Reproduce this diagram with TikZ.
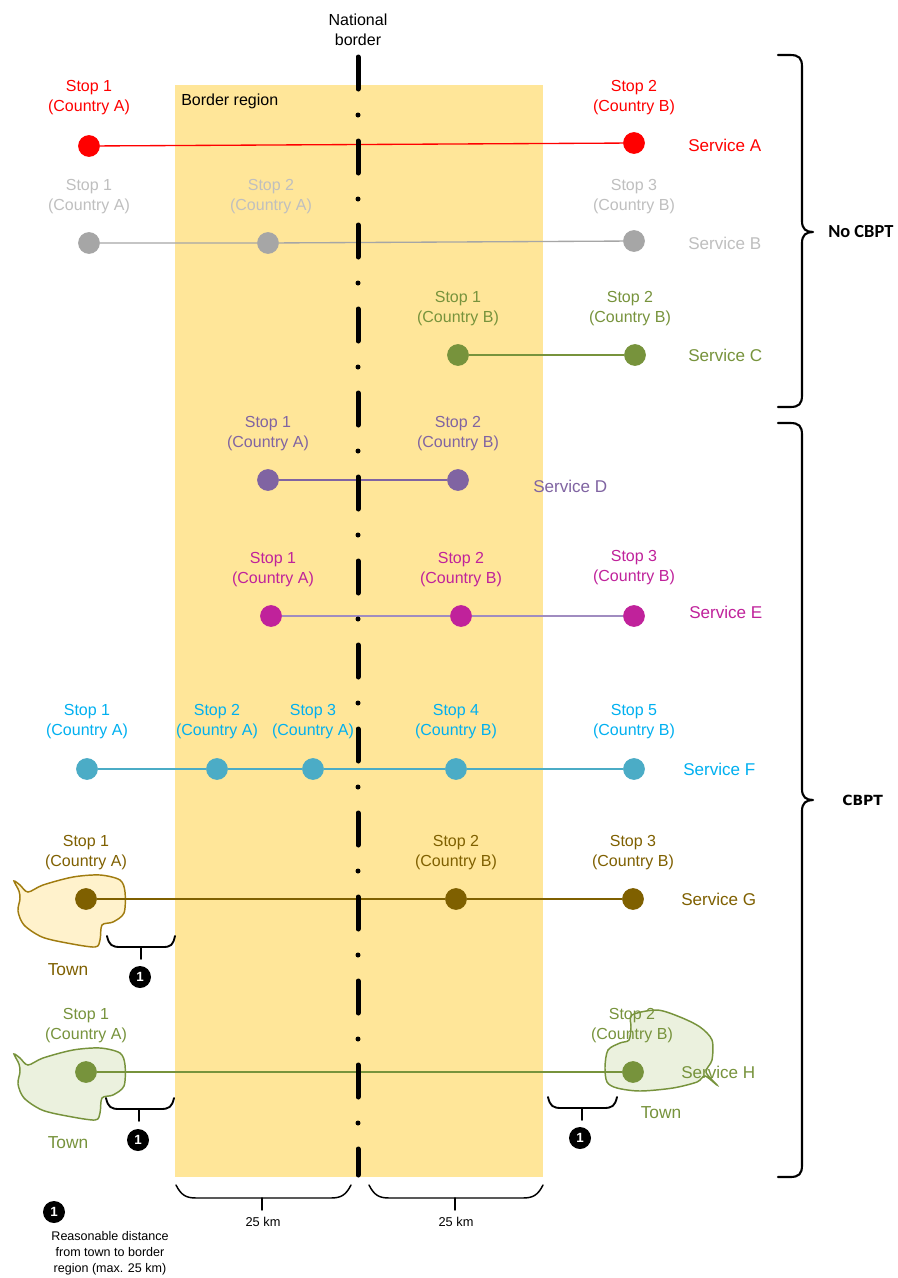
\documentclass[tikz,border=0pt]{standalone}
\usepackage{fontspec}
\setmainfont{Liberation Sans}
\newfontfamily\calfont{Carlito}
\newfontfamily\dejafont{DejaVu Sans}
\definecolor{regionfill}{HTML}{FFE699}
\definecolor{cRed}{HTML}{FF0000}
\definecolor{cGrayDot}{HTML}{A6A6A6}
\definecolor{cGrayTxt}{HTML}{BFBFBF}
\definecolor{cOlive}{HTML}{77933C}
\definecolor{cPurple}{HTML}{8064A2}
\definecolor{cMagenta}{HTML}{C0229B}
\definecolor{cLavender}{HTML}{A08CC0}
\definecolor{cCyanDot}{HTML}{4BACC6}
\definecolor{cCyanTxt}{HTML}{00B0F0}
\definecolor{cBrown}{HTML}{7F6000}
\definecolor{townYfill}{HTML}{FFF2CC}
\definecolor{townYline}{HTML}{A07C10}
\definecolor{townGfill}{HTML}{EBF1DE}
\begin{document}
\begin{tikzpicture}[x=0.75pt,y=-0.75pt,
  stoplbl/.style={align=center, font=\fontsize{12}{15}\selectfont, inner sep=0pt},
  svc/.style={anchor=west, font=\fontsize{12.8}{15}\selectfont, inner sep=0pt},
  stopdot/.style={circle, fill=#1, minimum size=16.3pt, inner sep=0pt},
  svcline/.style={line width=1pt},
  numdot/.style={circle, fill=black, minimum size=16.5pt, inner sep=0pt, text=white, font=\bfseries\fontsize{10}{10}\selectfont},
  bigbrace/.style={line width=1.6pt, line cap=round, line join=round},
  smallbrace/.style={line width=1.4pt, line cap=round, line join=round},
  townlbl/.style={font=\fontsize{13}{15}\selectfont, inner sep=0pt},
  kmlbl/.style={font=\fontsize{9.6}{12}\selectfont, inner sep=0pt}
]
\useasboundingbox (0,0) rectangle (897,1278);
\fill[white] (0,0) rectangle (897,1278);
% border region
\fill[regionfill] (175,85) rectangle (543,1177);
\node[anchor=west, font=\fontsize{12}{15}\selectfont, inner sep=0pt] (brlbl) at (181,101) {Border region};
\node[align=center, font=\fontsize{12}{15}\selectfont, inner sep=0pt] (nblbl) at (358,30) {National\\border};

% towns
\begin{scope}[shift={(86,899)}]
\filldraw[fill=townYfill, draw=townYline, line width=1.1pt] plot[smooth cycle, tension=0.5] coordinates {(-43,-14) (-13,-22) (14,-24) (34,-19) (39,-7) (38,14) (27,23) (16,26) (14,41) (9,48) (-19,44) (-44,38) (-62,26) (-68,12) (-66,0) (-67,-8) (-72,-18) (-66,-14) (-58,-7)};
\end{scope}
\begin{scope}[shift={(86,1072)}]
\filldraw[fill=townGfill, draw=cOlive, line width=1.1pt] plot[smooth cycle, tension=0.5] coordinates {(-43,-14) (-13,-22) (14,-24) (34,-19) (39,-7) (38,14) (27,23) (16,26) (14,41) (9,48) (-19,44) (-44,38) (-62,26) (-68,12) (-66,0) (-67,-8) (-72,-18) (-66,-14) (-58,-7)};
\end{scope}
\begin{scope}[shift={(633,1072)}]
\filldraw[fill=townGfill, draw=cOlive, line width=1.1pt] plot[smooth cycle, tension=0.5] coordinates {(-1,-57) (24,-62) (47,-55) (67,-45) (79,-32) (79,-12) (73,0) (84,13) (72,4) (64,10) (40,16) (7,19) (-16,16) (-26,10) (-28,-5) (-25,-22) (-13,-29) (-4,-32) (-2,-45)};
\end{scope}

% Service A
\node[stopdot=cRed] (a1) at (89,146) {};
\node[stopdot=cRed] (a2) at (634,143) {};
\draw[svcline, cRed] (a1) -- (a2);
\node[stoplbl, text=cRed] (a1l) at (89,98) {Stop 1\\(Country A)};
\node[stoplbl, text=cRed] (a2l) at (634,98) {Stop 2\\(Country B)};
\node[svc, text=cRed] (sa) at (688,145) {Service A};

% Service B
\node[stopdot=cGrayDot] (b1) at (89,243) {};
\node[stopdot=cGrayDot] (b2) at (268,243) {};
\node[stopdot=cGrayDot] (b3) at (634,241) {};
\draw[svcline, cGrayDot] (b1) -- (b2) -- (b3);
\node[stoplbl, text=cGrayTxt] (b1l) at (89,197) {Stop 1\\(Country A)};
\node[stoplbl, text=cGrayTxt] (b2l) at (271,197) {Stop 2\\(Country A)};
\node[stoplbl, text=cGrayTxt] (b3l) at (634,197) {Stop 3\\(Country B)};
\node[svc, text=cGrayTxt] (sb) at (688,243) {Service B};

% Service C
\node[stopdot=cOlive] (c1) at (458,355) {};
\node[stopdot=cOlive] (c2) at (635,355) {};
\draw[svcline, cOlive] (c1) -- (c2);
\node[stoplbl, text=cOlive] (c1l) at (458,309) {Stop 1\\(Country B)};
\node[stoplbl, text=cOlive] (c2l) at (630,309) {Stop 2\\(Country B)};
\node[svc, text=cOlive] (sc) at (688,355) {Service C};

% Service D
\node[stopdot=cPurple] (d1) at (268,480) {};
\node[stopdot=cPurple] (d2) at (458,480) {};
\draw[svcline, cPurple] (d1) -- (d2);
\node[stoplbl, text=cPurple] (d1l) at (268,434) {Stop 1\\(Country A)};
\node[stoplbl, text=cPurple] (d2l) at (458,434) {Stop 2\\(Country B)};
\node[svc, text=cPurple] (sd) at (533,486) {Service D};

% Service E
\node[stopdot=cMagenta] (e1) at (271,616) {};
\node[stopdot=cMagenta] (e2) at (461,616) {};
\node[stopdot=cMagenta] (e3) at (634,616) {};
\draw[svcline, cLavender] (e1) -- (e2) -- (e3);
\node[stoplbl, text=cMagenta] (e1l) at (273,570) {Stop 1\\(Country A)};
\node[stoplbl, text=cMagenta] (e2l) at (461,570) {Stop 2\\(Country B)};
\node[stoplbl, text=cMagenta] (e3l) at (634,568) {Stop 3\\(Country B)};
\node[svc, text=cMagenta] (se) at (689,612) {Service E};

% Service F
\node[stopdot=cCyanDot] (f1) at (87,769) {};
\node[stopdot=cCyanDot] (f2) at (217,769) {};
\node[stopdot=cCyanDot] (f3) at (313,769) {};
\node[stopdot=cCyanDot] (f4) at (456,769) {};
\node[stopdot=cCyanDot] (f5) at (634,769) {};
\draw[svcline, cCyanDot] (f1) -- (f2) -- (f3) -- (f4) -- (f5);
\node[stoplbl, text=cCyanTxt] (f1l) at (87,722) {Stop 1\\(Country A)};
\node[stoplbl, text=cCyanTxt] (f2l) at (217,722) {Stop 2\\(Country A)};
\node[stoplbl, text=cCyanTxt] (f3l) at (313,722) {Stop 3\\(Country A)};
\node[stoplbl, text=cCyanTxt] (f4l) at (456,722) {Stop 4\\(Country B)};
\node[stoplbl, text=cCyanTxt] (f5l) at (634,722) {Stop 5\\(Country B)};
\node[svc, text=cCyanTxt] (sf) at (683,769) {Service F};

% Service G
\node[stopdot=cBrown] (g1) at (86,899) {};
\node[stopdot=cBrown] (g2) at (456,899) {};
\node[stopdot=cBrown] (g3) at (633,899) {};
\draw[svcline, cBrown] (g1) -- (g2) -- (g3);
\node[stoplbl, text=cBrown] (g1l) at (86,853) {Stop 1\\(Country A)};
\node[stoplbl, text=cBrown] (g2l) at (456,853) {Stop 2\\(Country B)};
\node[stoplbl, text=cBrown] (g3l) at (633,853) {Stop 3\\(Country B)};
\node[svc, text=cBrown] (sg) at (681,899) {Service G};
\node[townlbl, text=cBrown] (tg) at (68,970) {Town};

% Service H
\node[stopdot=cOlive] (h1) at (86,1072) {};
\node[stopdot=cOlive] (h2) at (633,1072) {};
\draw[svcline, cOlive] (h1) -- (h2);
\node[stoplbl, text=cOlive] (h1l) at (86,1026) {Stop 1\\(Country A)};
\node[stoplbl, text=cOlive] (h2l) at (632,1026) {Stop 2\\(Country B)};
\node[svc, text=cOlive] (sh) at (681,1072) {Service H};
\node[townlbl, text=cOlive] (th1) at (68,1143) {Town};
\node[townlbl, text=cOlive] (th2) at (661,1113) {Town};

% national border
\draw[line width=3.75pt, line cap=round, dash pattern=on 24pt off 19.5pt on 0pt off 19.5pt] (358,57) -- (358,1175);

% small braces
\draw[smallbrace] (107,936) .. controls (109,945) and (112,947) .. (120,947) -- (163,947) .. controls (171,947) and (173,945) .. (175,936);
\draw[smallbrace] (141,947) -- (141,959);
\node[numdot] (n1) at (140,977) {1};
\draw[smallbrace] (106,1098) .. controls (108,1107) and (111,1109) .. (119,1109) -- (161,1109) .. controls (169,1109) and (172,1107) .. (174,1098);
\draw[smallbrace] (139,1109) -- (139,1121);
\node[numdot] (n2) at (138,1140) {1};
\draw[smallbrace] (548,1097) .. controls (550,1106) and (553,1108) .. (561,1108) -- (604,1108) .. controls (612,1108) and (615,1106) .. (617,1097);
\draw[smallbrace] (582,1108) -- (582,1120);
\node[numdot] (n3) at (580,1138) {1};

% bottom braces
\draw[smallbrace, line width=1.1pt] (176,1185) .. controls (181,1195) and (186,1198) .. (196,1198) -- (331,1198) .. controls (341,1198) and (346,1195) .. (351,1185);
\draw[smallbrace, line width=1.1pt] (262,1198) -- (262,1210);
\node[kmlbl] (km1) at (263,1222) {25 km};
\draw[smallbrace, line width=1.1pt] (369,1185) .. controls (374,1195) and (379,1198) .. (389,1198) -- (523,1198) .. controls (533,1198) and (538,1195) .. (543,1185);
\draw[smallbrace, line width=1.1pt] (455,1198) -- (455,1210);
\node[kmlbl] (km2) at (456,1222) {25 km};

% legend
\node[numdot] (n4) at (54,1212) {1};
\node[align=center, font=\fontsize{9.4}{12}\selectfont, inner sep=0pt] (leg) at (110,1253) {Reasonable distance\\from town to border\\region (max. 25 km)};

% right braces
\draw[bigbrace] (778,55) -- (790,55) .. controls (799,55) and (802,58) .. (802,67) -- (802,221) .. controls (802,229) and (806,232) .. (813,232) .. controls (806,232) and (802,235) .. (802,243) -- (802,395) .. controls (802,404) and (799,407) .. (790,407) -- (778,407);
\node[anchor=west, font=\calfont\bfseries\fontsize{13.8}{15}\selectfont, inner sep=0pt] (nocbpt) at (828,232) {No CBPT};
\draw[bigbrace] (778,423) -- (790,423) .. controls (799,423) and (802,426) .. (802,435) -- (802,789) .. controls (802,797) and (806,800) .. (813,800) .. controls (806,800) and (802,803) .. (802,811) -- (802,1165) .. controls (802,1174) and (799,1177) .. (790,1177) -- (778,1177);
\node[anchor=west, font=\dejafont\bfseries\fontsize{10.5}{12}\selectfont, inner sep=0pt] (cbpt) at (842,800) {CBPT};
\end{tikzpicture}
\end{document}
